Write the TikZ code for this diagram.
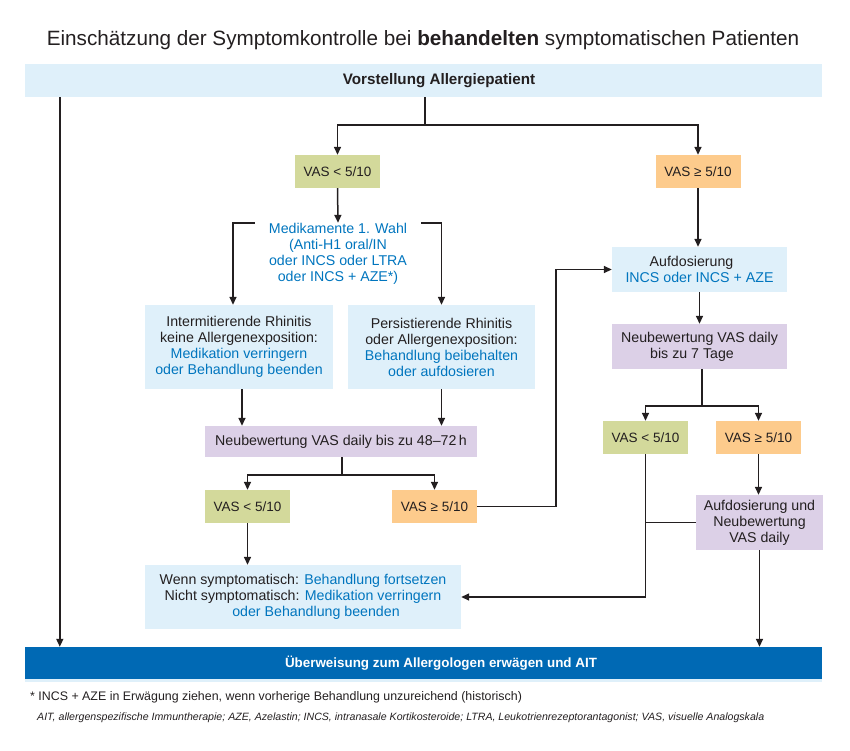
\documentclass[tikz,border=0pt]{standalone}
\usepackage{fontspec}
\setmainfont{Liberation Sans}
\usetikzlibrary{arrows.meta,calc}
\definecolor{lblue}{RGB}{223,240,250}
\definecolor{vgreen}{RGB}{211,217,155}
\definecolor{vorange}{RGB}{253,203,140}
\definecolor{vpurple}{RGB}{220,208,231}
\definecolor{dblue}{RGB}{0,105,180}
\definecolor{tblue}{RGB}{0,117,190}
\definecolor{txt}{RGB}{35,31,32}
\newcommand{\bl}[1]{\textcolor{tblue}{#1}}
\tikzset{
  box/.style={rectangle, inner sep=0pt, align=center, text=txt,
    font=\fontsize{14.2}{16}\selectfont},
  lbbox/.style={box, fill=lblue},
  gbox/.style={box, fill=vgreen, minimum width=85pt, minimum height=33pt,
    font=\fontsize{13.5}{16}\selectfont},
  obox/.style={box, fill=vorange, minimum width=85pt, minimum height=33pt,
    font=\fontsize{13.5}{16}\selectfont},
  pbox/.style={box, fill=vpurple},
  ln/.style={line width=1.5pt, draw=txt},
  arr/.style={ln, -{Triangle[width=7pt,length=8pt]}},
}
\begin{document}
\begin{tikzpicture}[x=1pt,y=-1pt]
\useasboundingbox (0,0) rectangle (850,750);
\node[text=txt, font=\fontsize{20.7}{24}\selectfont] (title) at (423,40)
  {Einschätzung der Symptomkontrolle bei \textbf{behandelten} symptomatischen Patienten};
\node[lbbox, minimum width=797pt, minimum height=33pt] (top) at (423.5,80.5) {};
\node[text=txt, inner sep=0pt, font=\bfseries\fontsize{15.2}{18}\selectfont] (toptxt) at (439,80.5) {Vorstellung Allergiepatient};
\node[gbox] (vasL1) at (337.5,171.5) {VAS < 5/10};
\node[obox] (vasR1) at (698,171.5) {VAS ≥ 5/10};
\node[box, minimum width=166pt, minimum height=62pt, text=tblue] (med) at (338,254)
  {Medikamente 1. Wahl\\(Anti-H1 oral/IN\\oder INCS oder LTRA\\oder INCS + AZE*)};
\node[lbbox, minimum width=188pt, minimum height=84pt] (intL) at (239,347)
  {Intermitierende Rhinitis\\keine Allergenexposition:\\\bl{Medikation verringern}\\\bl{oder Behandlung beenden}};
\node[lbbox, minimum width=187pt, minimum height=84pt] (persR) at (441.5,347)
  {Persistierende Rhinitis\\oder Allergenexposition:\\\bl{Behandlung beibehalten}\\\bl{oder aufdosieren}};
\node[pbox, minimum width=272pt, minimum height=31pt] (neu1) at (341,441.5)
  {Neubewertung VAS daily bis zu 48–72\,h};
\node[gbox] (vasL2) at (247.5,506.5) {VAS < 5/10};
\node[obox] (vasR2) at (434.5,506.5) {VAS ≥ 5/10};
\node[lbbox, minimum width=316pt, minimum height=64pt] (wenn) at (303,597)
  {Wenn symptomatisch: \bl{Behandlung fortsetzen}\\Nicht symptomatisch: \bl{Medikation verringern}\\\hspace*{26pt}\bl{oder Behandlung beenden}};
\node[lbbox, minimum width=175pt, minimum height=45pt] (aufd) at (699.5,269.5)
  {Aufdosierung\hspace*{16pt}\\\bl{INCS oder INCS + AZE}};
\node[pbox, minimum width=175pt, minimum height=45pt] (neu2) at (699.5,346.5)
  {Neubewertung VAS daily\\bis zu 7 Tage\hspace*{15pt}};
\node[gbox] (vasL3) at (645.5,437.5) {VAS < 5/10};
\node[obox] (vasR3) at (758.5,437.5) {VAS ≥ 5/10};
\node[pbox, minimum width=127pt, minimum height=55pt] (aufu) at (759.5,522.5)
  {Aufdosierung und\\Neubewertung\\VAS daily};
\node[box, fill=dblue, minimum width=797pt, minimum height=32pt] (bot) at (423.5,663) {};
\fill[lblue] (bot.south west) rectangle ++(797,3);
\node[text=white, inner sep=0pt, font=\bfseries\fontsize{13.4}{16}\selectfont] (bottxt) at (441,663)
  {Überweisung zum Allergologen erwägen und AIT};
\node[anchor=west, inner sep=0pt, text=txt, font=\fontsize{12.4}{15}\selectfont] (fn1) at (30,697)
  {* INCS + AZE in Erwägung ziehen, wenn vorherige Behandlung unzureichend (historisch)};
\node[anchor=west, inner sep=0pt, text=txt, font=\itshape\fontsize{10.6}{13}\selectfont] (fn2) at (37,718)
  {AIT, allergenspezifische Immuntherapie; AZE, Azelastin; INCS, intranasale Kortikosteroide; LTRA, Leukotrienrezeptorantagonist; VAS, visuelle Analogskala};
% connectors
\draw[arr] ([xshift=35pt]top.south west) -- ([xshift=35pt]bot.north west);
\draw[ln] ([xshift=1.5pt]top.south) -- ++(0,28) coordinate (s1);
\draw[arr] (s1) -| (vasL1.north);
\draw[arr] (s1) -| (vasR1.north);
\draw[arr] (vasL1.south) -- (med.north);
\draw[arr] (med.north west) -| ([xshift=-6pt]intL.north);
\draw[arr] (med.north east) -| (persR.north);
\draw[arr] ([xshift=3pt]intL.south) -- ([xshift=3pt]intL.south |- neu1.north);
\draw[arr] (persR.south) -- (persR.south |- neu1.north);
\draw[ln] ([xshift=1pt]neu1.south) -- ++(0,18) coordinate (s2);
\draw[arr] (s2) -| (vasL2.north);
\draw[arr] (s2) -| (vasR2.north);
\draw[arr] (vasL2.south) -- (vasL2.south |- wenn.north);
\draw[arr] (vasR2.east) -- ++(79,0) |- (aufd.west);
\draw[arr] (vasR1.south) -- (vasR1.south |- aufd.north);
\draw[arr] (aufd.south) -- (neu2.north);
\draw[ln] ([xshift=2.5pt]neu2.south) -- ++(0,37) coordinate (s3);
\draw[arr] (s3) -| (vasL3.north);
\draw[arr] (s3) -| (vasR3.north);
\draw[arr] (vasR3.south) -- (vasR3.south |- aufu.north);
\draw[arr] (vasL3.south) |- (wenn.east);
\draw[ln] (aufu.west) -- (aufu.west -| vasL3.south);
\draw[arr] (aufu.south) -- (aufu.south |- bot.north);
\end{tikzpicture}
\end{document}
